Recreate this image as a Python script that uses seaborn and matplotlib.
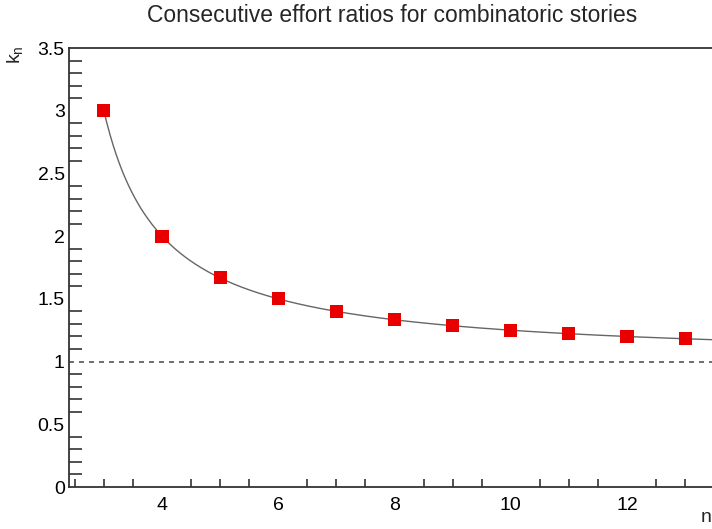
import numpy as np
import pandas as pd
import matplotlib
matplotlib.use("Agg")
import matplotlib.pyplot as plt
import seaborn as sns
from matplotlib.ticker import MultipleLocator

# Data
n_values = [3, 4, 5, 6, 7, 8, 9, 10, 11, 12, 13]
k_values = [3.0, 2.0, 1.667, 1.5, 1.4, 1.333, 1.286, 1.25, 1.222, 1.2, 1.182]
title = "Consecutive effort ratios for combinatoric stories"
x_label = "n"
y_label = "k$_{\\mathregular{n}}$"

sns.set_theme(style="white")
plt.rcParams['font.family'] = ['Liberation Sans', 'DejaVu Sans']

fig = plt.figure(figsize=(7.12, 5.29), dpi=100)
W, H = 712, 529
left_px, right_px, top_px, bottom_px = 69, 712, 48, 487
ax = fig.add_axes([left_px / W, 1 - bottom_px / H,
                   (right_px - left_px) / W, (bottom_px - top_px) / H])

xmin = 2.4
px_per_unit = (627 - 162) / 8.0
xmax = xmin + (right_px - left_px) / px_per_unit

# model curve k(n) = n/(n-2) shown as smooth line
curve_x = np.linspace(3, xmax + 0.2, 400)
curve = pd.DataFrame({"n": curve_x, "k": curve_x / (curve_x - 2)})
sns.lineplot(data=curve, x="n", y="k", ax=ax, color="#666666", lw=1.0)

ax.axhline(1.0, color="#555555", lw=1.2, ls=(0, (3, 3)))

pts = pd.DataFrame({"n": n_values, "k": k_values})
sns.scatterplot(data=pts, x="n", y="k", ax=ax, marker="s", s=90,
                color="#e80000", edgecolor="none", zorder=5)

ax.set_xlim(xmin, xmax)
ax.set_ylim(0, 3.5)
ax.xaxis.set_major_locator(MultipleLocator(2))
ax.xaxis.set_minor_locator(MultipleLocator(0.5))
ax.yaxis.set_major_locator(MultipleLocator(0.5))
ax.yaxis.set_minor_locator(MultipleLocator(0.1))
ax.set_yticks([0, 0.5, 1, 1.5, 2, 2.5, 3, 3.5])
ax.set_yticklabels(["0", "0.5", "1", "1.5", "2", "2.5", "3", "3.5"])
ax.set_xticks([4, 6, 8, 10, 12])
ax.set_xticklabels(["4", "6", "8", "10", "12"])

ax.tick_params(axis="both", which="major", direction="in", colors="#333333",
               labelcolor="black", labelsize=14, width=1.2)
ax.tick_params(axis="y", which="major", length=18, pad=3)
ax.tick_params(axis="y", which="minor", direction="in", length=9, width=1.2,
               colors="#333333", left=True)
ax.tick_params(axis="x", which="major", length=12, pad=7)
ax.tick_params(axis="x", which="minor", direction="in", length=6, width=1.2,
               colors="#333333", bottom=True)

for side in ["left", "bottom", "top"]:
    ax.spines[side].set_visible(True)
    ax.spines[side].set_color("#333333")
    ax.spines[side].set_linewidth(1.3)
ax.spines["right"].set_visible(False)

ax.set_xlabel("")
ax.set_ylabel("")
fig.text(706 / W, 1 - 517 / H, x_label, fontsize=14, ha="center", va="center")
fig.text(16 / W, 1 - 55 / H, y_label, fontsize=14, ha="center", va="center",
         rotation=90)
fig.text(392 / W, 1 - 16 / H, title, fontsize=16.5, ha="center", va="center")

fig.savefig("out.png", dpi=100)
